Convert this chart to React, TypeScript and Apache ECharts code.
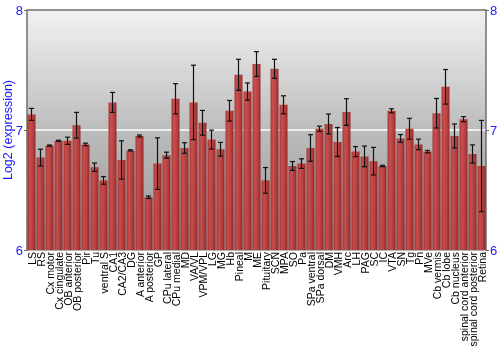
import React, { useEffect, useRef } from "react";
import * as echarts from "echarts";

const categories = [
  "LS", "RS", "Cx motor", "Cx cingulate", "OB anterior", "OB posterior", "Pir", "Tu",
  "ventral S", "CA1", "CA2/CA3", "DG", "A anterior", "A posterior", "GP", "CPu lateral",
  "CPu medial", "MD", "VA/VL", "VPM/VPL", "LG", "MG", "Hb", "Pineal", "M", "ME",
  "Pituitary", "SCN", "MPA", "SO", "Pa", "SPa ventral", "SPa dorsal", "DM", "VMH", "Arc",
  "LH", "PAG", "SC", "IC", "VTA", "SN", "Tg", "Pn", "MVe", "Cb vermis", "Cb lobe",
  "Cb nucleus", "spinal cord anterior", "spinal cord posterior", "Retina",
];

const means = [
  7.13, 6.77, 6.87, 6.91, 6.91, 7.04, 6.88, 6.69,
  6.58, 7.23, 6.75, 6.83, 6.95, 6.44, 6.72, 6.79,
  7.26, 6.85, 7.23, 7.06, 6.92, 6.84, 7.16, 7.46, 7.32, 7.55,
  6.58, 7.51, 7.21, 6.70, 6.72, 6.85, 7.01, 7.05, 6.90, 7.15,
  6.82, 6.78, 6.74, 6.70, 7.16, 6.93, 7.01, 6.88, 6.82, 7.14, 7.36,
  6.95, 7.09, 6.80, 6.70,
];

const errors = [
  0.05, 0.07, 0.005, 0.005, 0.03, 0.107, 0.01, 0.035,
  0.032, 0.083, 0.16, 0.005, 0.008, 0.01, 0.215, 0.025,
  0.126, 0.044, 0.31, 0.103, 0.079, 0.057, 0.086, 0.129, 0.072, 0.103,
  0.107, 0.079, 0.075, 0.037, 0.04, 0.111, 0.022, 0.083, 0.121, 0.111,
  0.042, 0.086, 0.115, 0.006, 0.017, 0.032, 0.087, 0.044, 0.01, 0.123, 0.144,
  0.1, 0.021, 0.076, 0.38,
];

const yTicks = { min: 6, max: 8, interval: 1 };

export default function App() {
  const ref = useRef<HTMLDivElement>(null);
  useEffect(() => {
    if (!ref.current) return;
    const chart = echarts.init(ref.current, null, { renderer: "svg" });
    const errData = means.map((m, i) => [i, m - errors[i], m + errors[i]]);
    const axisColor = "#6e6e6e";
    const labelBlue = "#1a1aff";
    chart.setOption({
      animation: false,
      textStyle: { fontFamily: "Liberation Sans, Arial, sans-serif" },
      grid: {
        left: 27,
        right: 14,
        top: 10,
        bottom: 100,
        containLabel: false,
        outerBoundsMode: "none",
        show: true,
        borderWidth: 0,
        backgroundColor: new echarts.graphic.LinearGradient(0, 0, 0, 1, [
          { offset: 0, color: "#f2f2f2" },
          { offset: 0.5, color: "#bcbcbc" },
          { offset: 1, color: "#969696" },
        ]),
      },
      xAxis: {
        type: "category",
        data: categories,
        boundaryGap: true,
        axisLine: { show: false },
        axisTick: { show: false },
        axisLabel: {
          rotate: 90,
          interval: 0,
          fontSize: 10.5,
          color: "#000",
          margin: 2,
          fontFamily: "Liberation Sans, Arial, sans-serif",
        },
      },
      yAxis: [
        {
          type: "value",
          min: yTicks.min,
          max: yTicks.max,
          interval: yTicks.interval,
          name: "Log2 (expression)",
          nameLocation: "middle",
          nameGap: 13,
          nameMoveOverlap: false,
          nameTextStyle: { color: labelBlue, fontSize: 12.5, fontFamily: "Liberation Sans, Arial, sans-serif" },
          axisLine: { show: true, lineStyle: { color: axisColor, width: 1.5 } },
          axisTick: { show: true, length: 3, lineStyle: { color: axisColor } },
          axisLabel: { color: labelBlue, fontSize: 13, margin: 4 },
          splitLine: { show: true, lineStyle: { color: ["#999", "#ffffff", axisColor], width: 1.5 } },
        },
        {
          type: "value",
          min: yTicks.min,
          max: yTicks.max,
          interval: yTicks.interval,
          position: "right",
          axisLine: { show: true, lineStyle: { color: axisColor, width: 1.5 } },
          axisTick: { show: true, length: 3, lineStyle: { color: axisColor } },
          axisLabel: { color: labelBlue, fontSize: 13, margin: 4 },
          splitLine: { show: false },
        },
      ],
      series: [
        {
          type: "bar",
          data: means,
          barWidth: 8,
          itemStyle: {
            opacity: 0.92,
            color: new echarts.graphic.LinearGradient(0, 0, 1, 0, [
              { offset: 0, color: "#a42a2a" },
              { offset: 0.3, color: "#cc4646" },
              { offset: 0.7, color: "#b43434" },
              { offset: 1, color: "#8a1e1e" },
            ]),
          },
          z: 2,
        },
        {
          type: "custom",
          data: errData,
          z: 3,
          renderItem: (params: any, api: any) => {
            const x = api.value(0);
            const lo = api.coord([x, api.value(1)]);
            const hi = api.coord([x, api.value(2)]);
            const hw = 2.5;
            const style = { stroke: "#111", lineWidth: 1.2 };
            return {
              type: "group",
              children: [
                { type: "line", shape: { x1: hi[0], y1: hi[1], x2: lo[0], y2: lo[1] }, style },
                { type: "line", shape: { x1: hi[0] - hw, y1: hi[1], x2: hi[0] + hw, y2: hi[1] }, style },
                { type: "line", shape: { x1: lo[0] - hw, y1: lo[1], x2: lo[0] + hw, y2: lo[1] }, style },
              ],
            };
          },
        },
      ],
    });
    return () => chart.dispose();
  }, []);
  return <div ref={ref} style={{ position: "fixed", left: 0, top: 0, width: 500, height: 350 }} />;
}
